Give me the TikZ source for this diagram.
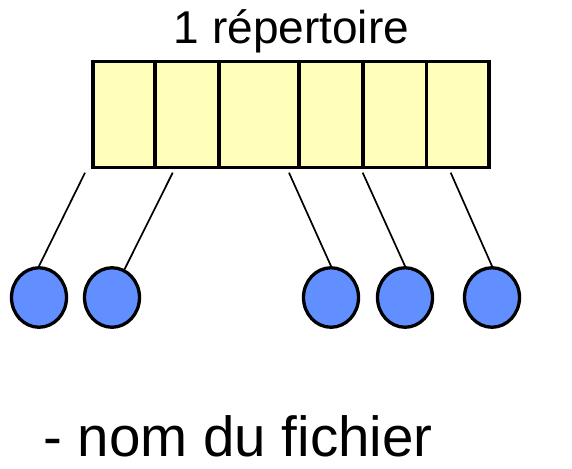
\documentclass[tikz,border=0pt]{standalone}
\usepackage{fontspec}
\setmainfont{Liberation Sans}
\usetikzlibrary{shapes.geometric}
\definecolor{cellyellow}{HTML}{FFFFBB}
\definecolor{fileblue}{HTML}{618FFF}
\begin{document}
\begin{tikzpicture}[x=1pt,y=-1pt,
  cellbox/.style={draw=black, fill=cellyellow, line width=3.3pt, rectangle,
    minimum height=106pt, inner sep=0pt},
  filenode/.style={draw=black, fill=fileblue, line width=3.3pt, ellipse,
    minimum width=55pt, minimum height=59.5pt, inner sep=0pt},
  link/.style={draw=black, line width=1.7pt},
  label/.style={font=\fontsize{46}{52}\selectfont, inner sep=0pt}]
\useasboundingbox (0,0) rectangle (572,468);

% directory entries
\node[cellbox, minimum width=62pt]   (cell1) at (124,114.5) {};
\node[cellbox, minimum width=64pt]   (cell2) at (187,114.5) {};
\node[cellbox, minimum width=80pt]   (cell3) at (259,114.5) {};
\node[cellbox, minimum width=64pt]   (cell4) at (331,114.5) {};
\node[cellbox, minimum width=63.7pt] (cell5) at (394.85,114.5) {};
\node[cellbox, minimum width=62.3pt] (cell6) at (457.85,114.5) {};

\node[label, anchor=base] (title) at (291.5,44) {1 répertoire};

% files
\node[filenode] (f1) at (39,297.5) {};
\node[filenode] (f2) at (112,297.5) {};
\node[filenode] (f3) at (331,297.5) {};
\node[filenode] (f4) at (405,297.5) {};
\node[filenode] (f5) at (492,297.5) {};

% upper ends of the links
\coordinate (s1) at (85,172.7);
\coordinate (s2) at (172.7,172.7);
\coordinate (s3) at (289,172.7);
\coordinate (s4) at (362.7,172.7);
\coordinate (s5) at (450.7,172.7);

\draw[link] (s1) -- (f1.north);
\draw[link] (s2) -- (f2.66);
\draw[link] (s3) -- (f3.north);
\draw[link] (s4) -- (f4.north);
\draw[link] (s5) -- (f5.north);

\node[anchor=base west, inner sep=0pt, font=\fontsize{56.5}{62}\selectfont]
  (caption) at (43,456.7) {- nom du fichier};
\end{tikzpicture}
\end{document}
